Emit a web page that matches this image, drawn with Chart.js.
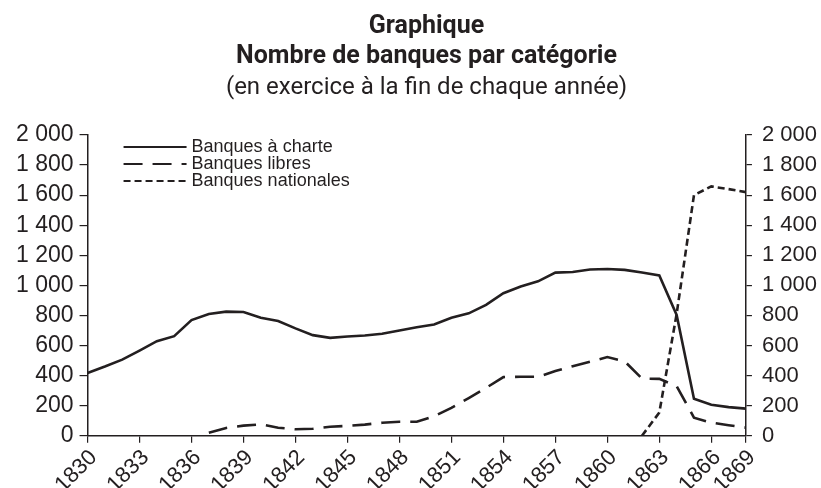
<!DOCTYPE html>
<html lang="fr">
<head>
<meta charset="utf-8">
<title>Nombre de banques par catégorie</title>
<script src="https://cdn.jsdelivr.net/npm/chart.js@4.4.1/dist/chart.umd.min.js"></script>
<style>
  html, body { margin: 0; padding: 0; background: #fff; overflow: hidden; }
  #wrap { width: 821px; height: 500px; }
</style>
</head>
<body>
<div id="wrap"><canvas id="banquesChart"></canvas></div>
<script>
  'use strict';

  // DONNEES
  const years = [1830, 1831, 1832, 1833, 1834, 1835, 1836, 1837, 1838, 1839,
    1840, 1841, 1842, 1843, 1844, 1845, 1846, 1847, 1848, 1849,
    1850, 1851, 1852, 1853, 1854, 1855, 1856, 1857, 1858, 1859,
    1860, 1861, 1862, 1863, 1864, 1865, 1866, 1867, 1868];

  const banquesCharte = [417, 460, 506, 566, 629, 662, 769, 809, 825, 823,
    785, 763, 714, 669, 651, 660, 667, 678, 700, 722,
    740, 785, 814, 870, 948, 993, 1027, 1085, 1089, 1105,
    1109, 1103, 1085, 1066, 803, 246, 206, 190, 180];

  const banquesLibres = [null, null, null, null, null, null, null, 20, 52, 67,
    76, 53, 43, 46, 60, 65, 74, 86, 93, 93,
    130, 185, 250, 318, 390, 392, 392, 430, 462, 492,
    523, 495, 380, 378, 330, 120, 87, 70, 54];

  const banquesNationales = [null, null, null, null, null, null, null, null, null, null,
    null, null, null, null, null, null, null, null, null, null,
    null, null, null, null, null, null, null, null, null, null,
    null, null, 0, 154, 810, 1600, 1658, 1640, 1620];

  const seriesLabels = ['Banques à charte', 'Banques libres', 'Banques nationales'];

  // graduations de l'axe des années (la derniere est etiquetee 1869 sur l'original)
  const xTickValues = [1830, 1833, 1836, 1839, 1842, 1845, 1848, 1851, 1854, 1857, 1860, 1863, 1866, 1868];
  const xTickLabels = ['1830', '1833', '1836', '1839', '1842', '1845', '1848', '1851', '1854', '1857', '1860', '1863', '1866', '1869'];

  const yTicks = [0, 200, 400, 600, 800, 1000, 1200, 1400, 1600, 1800, 2000];

  const ink = '#231f20';
  const axisFont = { family: "'Liberation Sans', Arial, sans-serif", size: 22 };

  function toPoints(values) {
    return years.map(function (year, i) {
      return { x: year, y: values[i] };
    });
  }

  function formatThousands(v) {
    return String(v).replace(/\B(?=(\d{3})+(?!\d))/g, ' ');
  }

  // legende dessinee dans la zone du graphique, en haut a gauche
  const insideLegend = {
    id: 'insideLegend',
    afterDraw(chart) {
      const ctx = chart.ctx;
      const area = chart.chartArea;
      const x0 = area.left + 36;
      const sample = 63;
      ctx.save();
      ctx.font = "18px 'Liberation Sans', Arial, sans-serif";
      ctx.fillStyle = ink;
      ctx.textBaseline = 'middle';
      chart.data.datasets.forEach(function (ds, i) {
        const y = area.top + 12 + i * 17;
        ctx.beginPath();
        ctx.setLineDash(ds.borderDash || []);
        ctx.lineWidth = 2.2;
        ctx.strokeStyle = ink;
        ctx.moveTo(x0, y);
        ctx.lineTo(x0 + sample, y);
        ctx.stroke();
        ctx.setLineDash([]);
        ctx.fillText(ds.label, x0 + sample + 5, y);
      });
      ctx.restore();
    }
  };

  // les titres de l'original sont un peu decales vers la droite
  const titleShift = {
    id: 'titleShift',
    afterLayout(chart) {
      chart.boxes.forEach(function (box) {
        if (box.options && box.options.text !== undefined) {
          box.left += 8;
          box.right += 8;
        }
      });
    }
  };

  const ctx = document.getElementById('banquesChart').getContext('2d');

  const chart = new Chart(ctx, {
    type: 'line',
    data: {
      datasets: [{
        label: seriesLabels[0],
        data: toPoints(banquesCharte),
        borderColor: ink,
        borderWidth: 2.6,
        borderDash: [],
      },
      {
        label: seriesLabels[1],
        data: toPoints(banquesLibres),
        borderColor: ink,
        borderWidth: 2.6,
        borderDash: [19, 10],
      },
      {
        label: seriesLabels[2],
        data: toPoints(banquesNationales),
        borderColor: ink,
        borderWidth: 2.6,
        borderDash: [7, 4],
      }]
    },
    options: {
      responsive: true,
      maintainAspectRatio: false,
      animation: false,
      elements: {
        point: { radius: 0 },
        line: { tension: 0, fill: false },
      },
      layout: {
        padding: { left: 10, right: -6, top: 0, bottom: 0 },
      },
      plugins: {
        legend: { display: false },
        tooltip: { enabled: false },
        title: {
          display: true,
          text: ['Graphique', 'Nombre de banques par catégorie'],
          color: ink,
          font: { family: 'Roboto, sans-serif', size: 25, weight: 'bold', lineHeight: '30px' },
          padding: { top: 12, bottom: 2 },
        },
        subtitle: {
          display: true,
          text: '(en exercice à la fin de chaque année)',
          color: ink,
          font: { family: 'Roboto, sans-serif', size: 24, weight: 'normal', lineHeight: '28px' },
          padding: { top: 0, bottom: 33 },
        },
      },
      scales: {
        x: {
          type: 'linear',
          min: 1830,
          max: 1868,
          afterBuildTicks(scale) {
            scale.ticks = xTickValues.map(function (v) { return { value: v }; });
          },
          ticks: {
            autoSkip: false,
            minRotation: 45,
            maxRotation: 45,
            color: ink,
            font: axisFont,
            padding: 2,
            labelOffset: 6,
            callback(value) {
              const i = xTickValues.indexOf(value);
              return i >= 0 ? xTickLabels[i] : '';
            },
          },
          grid: { drawOnChartArea: false, drawTicks: true, tickLength: 7, color: ink, lineWidth: 1.2 },
          border: { display: true, color: ink, width: 1.5 },
        },
        y: {
          position: 'left',
          min: 0,
          max: 2000,
          afterBuildTicks(scale) {
            scale.ticks = yTicks.map(function (v) { return { value: v }; });
          },
          ticks: { autoSkip: false, color: ink, font: { family: axisFont.family, size: 23 }, padding: 6, callback: formatThousands },
          grid: { drawOnChartArea: false, drawTicks: true, tickLength: 8, color: ink, lineWidth: 1.2 },
          border: { display: true, color: ink, width: 1.5 },
        },
        y1: {
          position: 'right',
          min: 0,
          max: 2000,
          afterBuildTicks(scale) {
            scale.ticks = yTicks.map(function (v) { return { value: v }; });
          },
          ticks: { autoSkip: false, color: ink, font: axisFont, padding: 10, callback: formatThousands },
          grid: { drawOnChartArea: false, drawTicks: true, tickLength: 6, color: ink, lineWidth: 1.2 },
          border: { display: true, color: ink, width: 1.5 },
        },
      },
    },
    plugins: [insideLegend, titleShift],
  });

  console.log(chart.chartArea);
</script>
</body>
</html>
